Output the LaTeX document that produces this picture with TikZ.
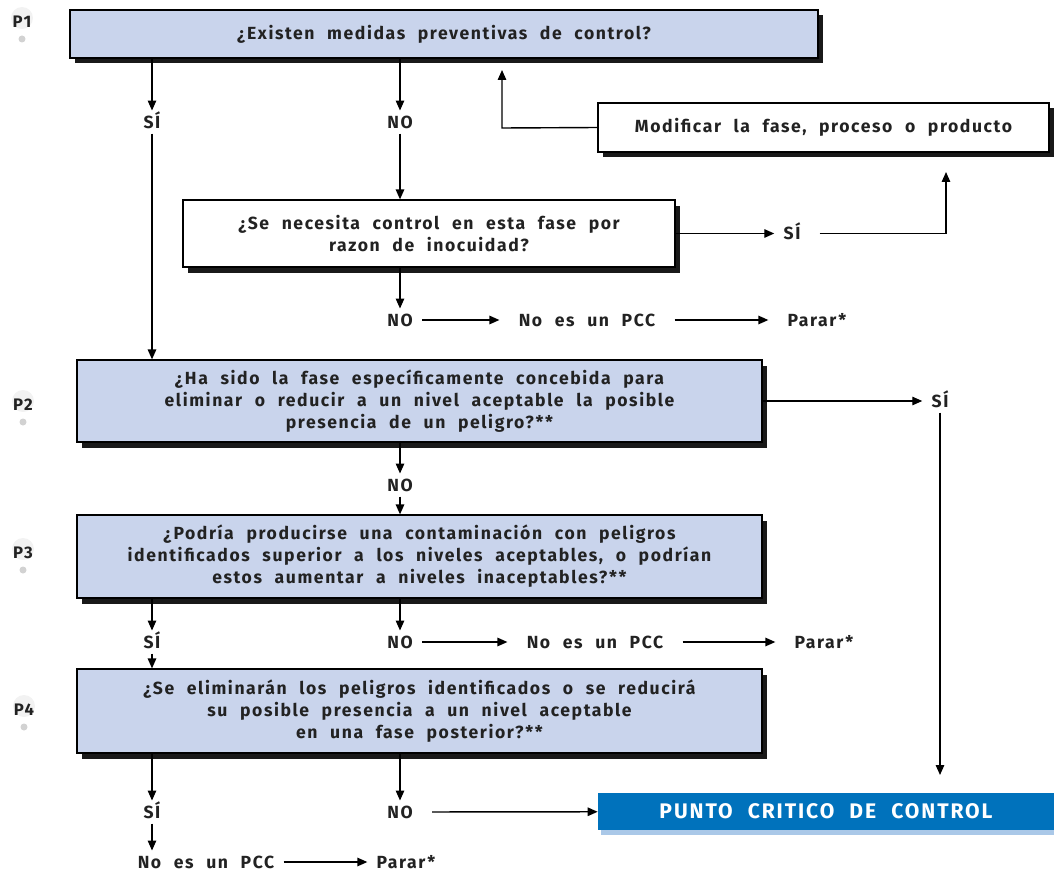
\documentclass[tikz,border=0pt]{standalone}
\usepackage{fontspec}
\setmainfont{Fira Sans}[LetterSpace=9, WordSpace=2.2]
\usetikzlibrary{arrows.meta, shadows}

\definecolor{ink}{RGB}{34,34,34}
\definecolor{boxfill}{RGB}{201,212,236}
\definecolor{pccblue}{RGB}{0,114,188}
\definecolor{pccshade}{RGB}{170,200,232}

\tikzset{
  qbox/.style={draw=black, line width=0.7pt, fill=boxfill, align=center, text=ink,
    font=\fontsize{10}{12.5}\selectfont\bfseries,
    drop shadow={shadow xshift=0.1cm, shadow yshift=-0.11cm, fill=black!90, opacity=1}},
  wbox/.style={qbox, fill=white},
  lab/.style={text=ink, font=\fontsize{10}{12.5}\selectfont\bfseries, inner xsep=0.18cm,
    inner ysep=0.1cm, text height=0.7em, text depth=0pt},
  plabel/.style={text=ink, font=\fontsize{9.5}{10}\selectfont\bfseries},
  arr/.style={-{Triangle[length=0.2cm, width=0.17cm]}, line width=0.8pt, black}
}

\begin{document}
\begin{tikzpicture}[x=0.02cm, y=-0.02cm]
\useasboundingbox (0,0) rectangle (1054,882);

\foreach \n/\xp/\yp in {1/22/22, 2/23/405, 3/23/553, 4/24/710} {
  \fill [gray!10] (\xp, \yp-4) circle (11);
  \node [plabel] (plab\n) at (\xp, \yp) {P\n};
  \fill [gray!35] (\xp, \yp+17) circle (3.5);
}

\node [qbox, minimum width=748*0.02cm, minimum height=48*0.02cm] (p1box) at (444, 34)
  {¿Existen medidas preventivas de control?};
\node [wbox, minimum width=451*0.02cm, minimum height=49*0.02cm] (modbox) at (823.5, 127.5)
  {Modificar la fase, proceso o producto};
\node [wbox, minimum width=492*0.02cm, minimum height=67*0.02cm] (q2box) at (429, 233.5)
  {¿Se necesita control en esta fase por\\razon de inocuidad?};
\node [qbox, minimum width=685*0.02cm, minimum height=82*0.02cm] (p2box) at (419.5, 401)
  {¿Ha sido la fase específicamente concebida para\\eliminar o reducir a un nivel aceptable la posible\\presencia de un peligro?**};
\node [qbox, minimum width=685*0.02cm, minimum height=83*0.02cm] (p3box) at (419.5, 556.5)
  {¿Podría producirse una contaminación con peligros\\identificados superior a los niveles aceptables, o podrían\\estos aumentar a niveles inaceptables?**};
\node [qbox, minimum width=685*0.02cm, minimum height=84*0.02cm] (p4box) at (419.5, 711)
  {¿Se eliminarán los peligros identificados o se reducirá\\su posible presencia a un nivel aceptable\\en una fase posterior?**};
\node [fill=pccblue, text=white, font=\fontsize{12}{14}\selectfont\bfseries,
  minimum width=456*0.02cm, minimum height=37*0.02cm,
  drop shadow={shadow xshift=0.06cm, shadow yshift=-0.1cm, fill=pccshade, opacity=1}]
  (pccbox) at (826, 811.5) {PUNTO CRITICO DE CONTROL};

\node [lab] (p1si) at (152, 122) {SÍ};
\node [lab] (p1no) at (400, 122) {NO};
\node [lab] (q2si) at (792, 233.5) {SÍ};
\node [lab] (q2no) at (400, 320) {NO};
\node [lab] (q2pcc) at (587, 320) {No es un PCC};
\node [lab] (q2stop) at (817, 320) {Parar*};
\node [lab] (p2si) at (940, 401) {SÍ};
\node [lab] (p2no) at (400, 485) {NO};
\node [lab] (p3si) at (152, 642) {SÍ};
\node [lab] (p3no) at (400, 642) {NO};
\node [lab] (p3pcc) at (595, 642) {No es un PCC};
\node [lab] (p3stop) at (824, 642) {Parar*};
\node [lab] (p4si) at (152, 812) {SÍ};
\node [lab] (p4no) at (400, 812) {NO};
\node [lab] (p4pcc) at (206, 862) {No es un PCC};
\node [lab] (p4stop) at (406, 862) {Parar*};

\coordinate (c1) at (946, 233.5);
\coordinate (c1t) at (946, 172);
\coordinate (c2) at (502, 128);
\coordinate (c2t) at (502, 70);
\coordinate (c3) at (940, 775);

\draw [arr] (p1box.south -| p1si) -- (p1si);
\draw [arr] (p1box.south -| p1no) -- (p1no);
\draw [arr] (p1no) -- (q2box.north -| p1no);
\draw [arr] (p1si) -- (p2box.north -| p1si);
\draw [arr] (modbox.west) -- (c2) -- (c2t);
\draw [arr] (q2box.east) -- (q2si);
\draw [arr, shorten <=0.2cm] (q2si) -- (c1) -- (c1t);
\draw [arr] (q2box.south -| q2no) -- (q2no);
\draw [arr, shorten >=0.2cm] (q2no) -- (q2pcc);
\draw [arr, shorten >=0.2cm, shorten <=0.2cm] (q2pcc) -- (q2stop);
\draw [arr] (p2box.east) -- (p2si);
\draw [arr] (p2si) -- (c3);
\draw [arr] (p2box.south -| p2no) -- (p2no);
\draw [arr] (p2no) -- (p3box.north -| p2no);
\draw [arr] (p3box.south -| p3si) -- (p3si);
\draw [arr] (p3si) -- (p4box.north -| p3si);
\draw [arr] (p3box.south -| p3no) -- (p3no);
\draw [arr, shorten >=0.2cm] (p3no) -- (p3pcc);
\draw [arr, shorten >=0.2cm, shorten <=0.2cm] (p3pcc) -- (p3stop);
\draw [arr] (p4box.south -| p4si) -- (p4si);
\draw [arr] (p4si) -- (p4si |- p4pcc.north);
\draw [arr] (p4box.south -| p4no) -- (p4no);
\draw [arr, shorten <=0.2cm] (p4no) -- (pccbox);
\draw [arr] (p4pcc) -- (p4stop);
\end{tikzpicture}
\end{document}
